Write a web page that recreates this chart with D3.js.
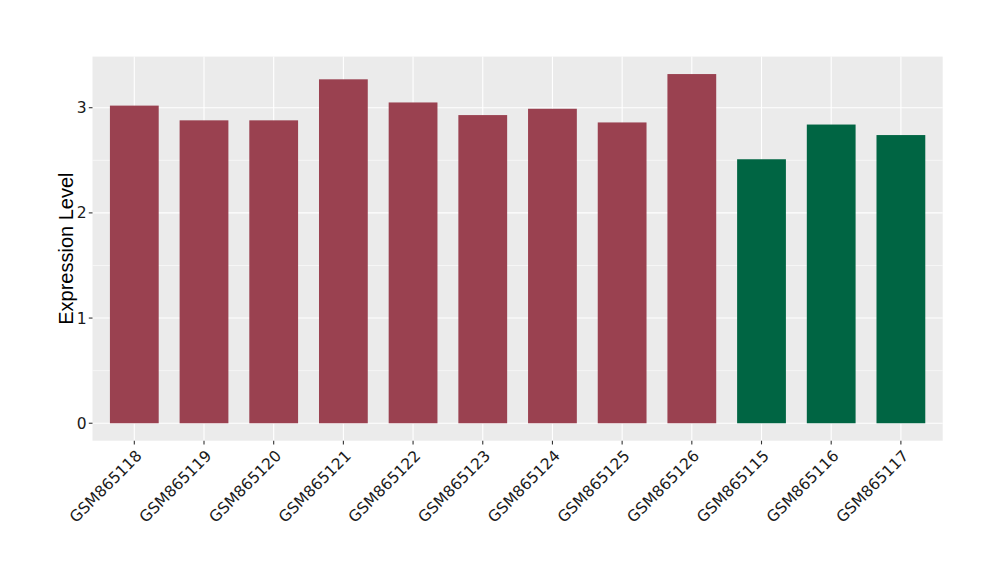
<!DOCTYPE html>
<html><head><meta charset="utf-8">
<script src="https://cdn.jsdelivr.net/npm/d3@7"></script>
<style>body{margin:0;background:#fff;} text{font-family:"DejaVu Sans",sans-serif;}</style>
</head><body><svg id="c" width="1000" height="580"></svg>
<script>
const categories = ["GSM865118","GSM865119","GSM865120","GSM865121","GSM865122","GSM865123","GSM865124","GSM865125","GSM865126","GSM865115","GSM865116","GSM865117"];
const values = [3.02, 2.88, 2.88, 3.27, 3.05, 2.93, 2.99, 2.86, 3.32, 2.51, 2.84, 2.74];
const groups = ["A","A","A","A","A","A","A","A","A","B","B","B"];
const yTicks = [0, 1, 2, 3];
const yMinor = [0.5, 1.5, 2.5];
const colors = {A: "#9A4150", B: "#006543"};

const svg = d3.select("#c");
const L = 92.5, R = 942.7, T = 56.6, B = 440.7;
const n = categories.length;
const x = d3.scaleLinear().domain([0.4, n + 0.6]).range([L, R]);
const maxV = d3.max(values);
const y = d3.scaleLinear().domain([-0.05 * maxV, maxV * 1.05]).range([B, T]);

svg.append("rect").attr("x", L).attr("y", T).attr("width", R - L).attr("height", B - T).attr("fill", "#EBEBEB");
const g = svg.append("g");
g.selectAll(".minor").data(yMinor).join("line")
  .attr("x1", L).attr("x2", R).attr("y1", d => y(d)).attr("y2", d => y(d))
  .attr("stroke", "#fff").attr("stroke-width", 0.55);
g.selectAll(".major").data(yTicks).join("line")
  .attr("x1", L).attr("x2", R).attr("y1", d => y(d)).attr("y2", d => y(d))
  .attr("stroke", "#fff").attr("stroke-width", 1.1);
g.selectAll(".vmajor").data(categories).join("line")
  .attr("x1", (d, i) => x(i + 1)).attr("x2", (d, i) => x(i + 1)).attr("y1", T).attr("y2", B)
  .attr("stroke", "#fff").attr("stroke-width", 1.1);

const bw = x(1.35) - x(1);
g.selectAll(".bar").data(values).join("rect")
  .attr("x", (d, i) => x(i + 1) - bw).attr("width", 2 * bw)
  .attr("y", d => y(d)).attr("height", d => y(0) - y(d))
  .attr("fill", (d, i) => colors[groups[i]]);

// y axis
const ya = svg.append("g");
ya.selectAll("line").data(yTicks).join("line")
  .attr("x1", L - 3.7).attr("x2", L).attr("y1", d => y(d)).attr("y2", d => y(d))
  .attr("stroke", "#333").attr("stroke-width", 1.1);
ya.selectAll("text").data(yTicks).join("text")
  .attr("x", L - 6).attr("y", d => y(d)).attr("dy", "0.36em")
  .attr("text-anchor", "end").attr("font-size", 15.5).attr("fill", "#1a1a1a").text(d => d);

// x axis
const xa = svg.append("g");
xa.selectAll("line").data(categories).join("line")
  .attr("x1", (d, i) => x(i + 1)).attr("x2", (d, i) => x(i + 1)).attr("y1", B).attr("y2", B + 3.7)
  .attr("stroke", "#333").attr("stroke-width", 1.1);
xa.selectAll("text").data(categories).join("text")
  .attr("transform", (d, i) => `translate(${x(i + 1) + 8.5},${B + 16}) rotate(-45)`)
  .attr("text-anchor", "end").attr("font-size", 15.5).attr("fill", "#1a1a1a").text(d => d);

svg.append("text").attr("transform", `translate(73,${(T + B) / 2}) rotate(-90)`)
  .attr("text-anchor", "middle").attr("font-size", 20).attr("fill", "#000")
  .style("font-family", "'Liberation Sans', Arial, sans-serif").text("Expression Level");
</script></body></html>
